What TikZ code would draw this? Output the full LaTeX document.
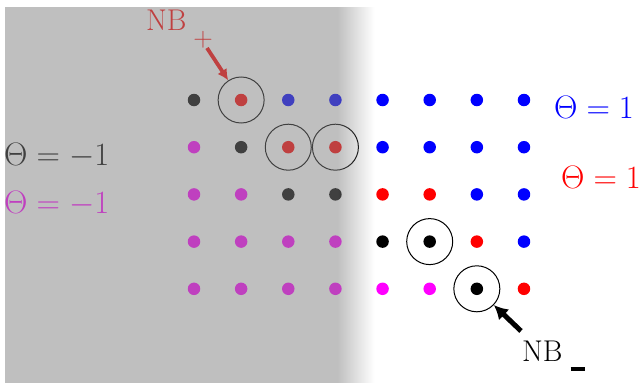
\RequirePackage{fix-cm}
\documentclass[tikz,border=0pt]{standalone}
\usetikzlibrary{arrows.meta}
\definecolor{mag}{RGB}{255,0,255}
\definecolor{rd}{RGB}{255,0,0}
\definecolor{bl}{RGB}{0,0,255}
\begin{document}
\begin{tikzpicture}[x=1pt,y=-1pt,
  dot/.style={circle,inner sep=0pt,minimum size=12.5pt},
  ring/.style={circle,draw=black,line width=1pt,minimum size=46pt,inner sep=0pt},
  lbl/.style={anchor=base west,inner sep=0pt,font=\fontsize{32.5}{38}\selectfont},
  nbl/.style={anchor=base west,inner sep=0pt,font=\fontsize{30}{36}\selectfont}]
\useasboundingbox (0,0) rectangle (640,383);
% dots
\foreach \r/\cols in {1/{black,rd,bl,bl,bl,bl,bl,bl},
                      2/{mag,black,rd,rd,bl,bl,bl,bl},
                      3/{mag,mag,black,black,rd,rd,bl,bl},
                      4/{mag,mag,mag,mag,black,black,rd,bl},
                      5/{mag,mag,mag,mag,mag,mag,black,rd}}{
  \foreach \c [count=\i] in \cols {
    \node[dot,fill=\c] (d-\r-\i) at ({194+47.14*(\i-1)},{100+47.2*(\r-1)}) {};
  }
}
% rings
\node[ring] (c1) at (d-1-2) {};
\node[ring] (c2) at (d-2-3) {};
\node[ring] (c3) at (d-2-4) {};
\node[ring] (c4) at (d-4-6) {};
\node[ring] (c5) at (d-5-7) {};
% labels
\node[lbl,text=black] (tl) at (4,165) {$\Theta=-1$};
\node[lbl,text=mag] (tm) at (4,213) {$\Theta=-1$};
\node[lbl,text=bl] (tb) at (554,118) {$\Theta=1$};
\node[lbl,text=rd] (tr) at (561,188) {$\Theta=1$};
% NB+
\node[nbl,text=rd] (nbp) at (146,30) {NB};
\node[inner sep=0pt,font=\fontsize{27}{32}\selectfont,text=rd] (plus) at (203,40) {$+$};
\coordinate (pa) at (207,48);
\draw[rd,line width=3.8pt,-{Latex[length=11pt,width=11pt]}] (pa) -- (c1);
% NB-
\node[nbl] (nbm) at (522,361) {NB\hspace{8pt}\rule[-10pt]{14pt}{4pt}};
\coordinate (pb) at (521,331);
\draw[black,line width=5pt,-{Latex[length=14pt,width=15pt]}] (pb) -- (c5);
% gray overlay with fade
\fill[black!50,opacity=0.5] (5,7) rectangle (338,383);
\foreach \k [evaluate=\k as \op using {0.5*(1-(\k+0.5)/37)}] in {0,...,36}{
  \fill[black!50,opacity=\op] ({338+\k},7) rectangle ({339+\k},383);
}
\end{tikzpicture}
\end{document}
